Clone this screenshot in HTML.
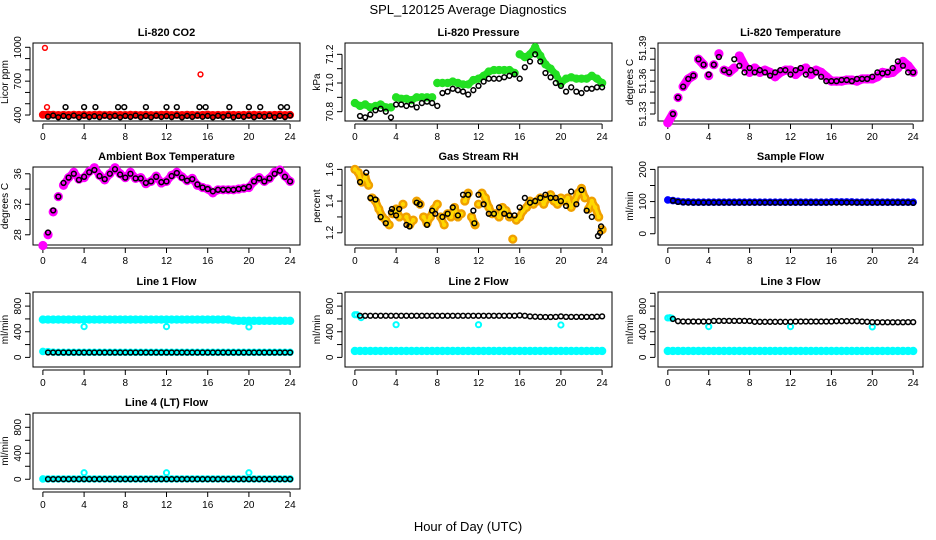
<!DOCTYPE html>
<html><head><meta charset="utf-8"><title>SPL_120125 Average Diagnostics</title>
<style>
html,body{margin:0;padding:0;background:#fff;}
svg{display:block;font-family:"Liberation Sans",Arial,sans-serif;}
</style></head>
<body>
<svg id="chart" width="936" height="540" viewBox="0 0 936 540" xmlns="http://www.w3.org/2000/svg">
<text x="468" y="14" text-anchor="middle" font-size="13">SPL_120125  Average Diagnostics</text>
<text x="468" y="531" text-anchor="middle" font-size="13">Hour of Day (UTC)</text>
</svg>
<script>
// ---- shared data ----
const T_HALF = [0,0.5,1,1.5,2,2.5,3,3.5,4,4.5,5,5.5,6,6.5,7,7.5,8,8.5,9,9.5,10,10.5,11,11.5,12,12.5,13,13.5,14,14.5,15,15.5,16,16.5,17,17.5,18,18.5,19,19.5,20,20.5,21,21.5,22,22.5,23,23.5,24];
const T_BLK = [0.5,1,1.5,2,2.5,3,3.5,4,4.5,5,5.5,6,6.5,7,7.5,8,8.5,9,9.5,10,10.5,11,11.5,12,12.5,13,13.5,14,14.5,15,15.5,16,16.5,17,17.5,18,18.5,19,19.5,20,20.5,21,21.5,22,22.5,23,23.5,24];
const X_TICKS = [0,4,8,12,16,20,24];
const OUT_T = [4,12,20];

// CO2
const co2Red = [402,405,402,400,401,400,402,401,400,400,401,402,400,401,400,401,400,402,401,400,401,400,400,402,403,400,401,400,402,401,400,401,403,400,401,400,402,401,400,401,400,402,400,401,400,401,402,400,401];
const co2RedOutT = [0.2,0.4,4,12,15.3,20];
const co2RedOutV = [995,470,410,410,760,410];
const co2Black = [385,395,380,392,383,395,380,396,382,390,381,395,384,393,380,392,383,395,381,392,380,394,383,390,382,396,380,392,383,395,384,392,380,393,382,395,380,391,383,396,381,392,384,395,380,393,382,396];
const co2HighT = [2.2,4,5.1,7.3,7.9,10,12,13,15.2,15.8,18.1,20,21.1,23.1,23.7];
const co2HighV = [470,470,470,470,470,470,470,470,470,470,470,470,470,470,470];
// Pressure
const presGreen = [70.86,70.84,70.85,70.83,70.84,70.85,70.83,70.83,70.9,70.89,70.89,70.88,70.9,70.9,70.9,70.9,71.0,71.0,71.0,71.01,71.0,70.99,70.99,71.02,71.03,71.05,71.08,71.09,71.09,71.09,71.09,71.07,71.2,71.18,71.2,71.25,71.19,71.13,71.1,71.06,71.0,71.03,71.04,71.03,71.03,71.03,71.05,71.03,71.0];
const presBlack = [70.77,70.76,70.78,70.81,70.82,70.8,70.76,70.85,70.85,70.84,70.85,70.83,70.86,70.87,70.86,70.84,70.93,70.94,70.96,70.95,70.94,70.92,70.95,70.98,71.01,71.03,71.03,71.03,71.04,71.05,71.06,71.03,71.11,71.15,71.2,71.15,71.07,71.04,71.0,70.98,70.94,70.97,70.94,70.93,70.96,70.96,70.97,70.97];
// Li-820 temperature
const ltMag = [51.322,51.33,51.345,51.355,51.362,51.365,51.38,51.375,51.365,51.375,51.385,51.37,51.368,51.372,51.383,51.374,51.368,51.372,51.368,51.37,51.368,51.364,51.368,51.37,51.37,51.366,51.37,51.372,51.366,51.37,51.368,51.364,51.36,51.36,51.36,51.361,51.361,51.36,51.362,51.362,51.362,51.364,51.368,51.367,51.368,51.372,51.378,51.374,51.368];
const ltBlack = [51.33,51.345,51.355,51.362,51.365,51.38,51.375,51.366,51.375,51.382,51.37,51.368,51.38,51.374,51.368,51.372,51.368,51.37,51.368,51.365,51.368,51.37,51.37,51.366,51.37,51.372,51.366,51.37,51.368,51.364,51.36,51.36,51.36,51.361,51.361,51.36,51.362,51.362,51.362,51.364,51.368,51.367,51.368,51.372,51.378,51.374,51.368,51.368];
// Ambient box temperature
const abMag = [26.6,28.0,31.0,33.0,34.5,35.5,36.2,35.3,35.5,36.3,36.8,35.8,35.2,36.0,36.8,36.0,35.5,36.2,35.4,35.5,34.7,35.0,35.7,34.8,35.0,35.8,36.2,35.6,35.1,35.4,34.5,34.2,34.0,33.5,33.9,33.9,33.9,33.9,34.0,34.1,34.2,35.0,35.5,35.0,35.4,36.2,36.5,35.7,35.0];
const abBlack = [28.3,31.2,33.0,34.8,35.5,36.0,35.2,35.6,36.2,36.5,35.7,35.3,36.0,36.6,35.9,35.5,36.0,35.4,35.4,34.8,35.0,35.6,34.9,35.0,35.7,36.1,35.5,35.1,35.3,34.6,34.2,34.0,33.7,33.9,33.9,33.9,33.9,34.0,34.1,34.3,35.0,35.4,35.0,35.4,36.0,36.4,35.6,35.0];
// Gas stream RH
const rhT = [0,0.33,0.67,1,1.33,1.67,2,2.33,2.67,3,3.33,3.67,4,4.33,4.67,5,5.33,5.67,6,6.33,6.67,7,7.33,7.67,8,8.33,8.67,9,9.33,9.67,10,10.33,10.67,11,11.33,11.67,12,12.33,12.67,13,13.33,13.67,14,14.33,14.67,15,15.33,15.67,16,16.33,16.67,17,17.33,17.67,18,18.33,18.67,19,19.33,19.67,20,20.33,20.67,21,21.33,21.67,22,22.33,22.67,23,23.33,23.67,24];
const rhOrange = [1.6,1.58,1.52,1.55,1.5,1.42,1.4,1.35,1.3,1.28,1.25,1.32,1.35,1.3,1.38,1.3,1.25,1.28,1.4,1.38,1.3,1.26,1.3,1.35,1.38,1.3,1.25,1.32,1.3,1.36,1.3,1.32,1.4,1.45,1.3,1.25,1.38,1.45,1.42,1.36,1.32,1.32,1.3,1.36,1.34,1.3,1.16,1.28,1.3,1.34,1.36,1.4,1.38,1.4,1.42,1.38,1.42,1.44,1.4,1.38,1.42,1.4,1.42,1.36,1.4,1.45,1.48,1.42,1.35,1.4,1.36,1.3,1.22];
const rhBlackT = [0.5,1.1,1.5,2,2.5,3,3.5,3.6,4,4.3,5,5.3,6,6.3,7,7.5,7.8,8.5,9,9.5,10,10.5,11,11.5,11.6,12,12.5,13,13.5,14,14.5,15,15.5,16,16.5,17,17.5,18,18.5,19,19.5,20,20.5,21,21.5,22,22.5,23,23.6,23.8,23.9];
const rhBlackV = [1.52,1.58,1.42,1.41,1.3,1.26,1.33,1.35,1.31,1.35,1.25,1.24,1.39,1.38,1.25,1.34,1.32,1.3,1.32,1.36,1.31,1.44,1.44,1.34,1.26,1.44,1.38,1.32,1.32,1.36,1.32,1.31,1.31,1.36,1.42,1.39,1.4,1.42,1.44,1.42,1.42,1.4,1.37,1.46,1.38,1.47,1.34,1.3,1.18,1.2,1.24];
// Sample flow
const sfBlue = [105,103,101,99,99,98,98,98,98,98,98,98,98,98,98,98,98,98,98,98,98,98,98,98,98,98,98,98,98,98,98,98,99,99,99,99,99,98,98,98,98,98,98,98,98,98,98,98,98];
const sfBlack = [103,99,98,97,97,97,97,97,97,97,97,97,97,97,97,97,97,97,97,97,97,97,97,97,97,97,97,97,97,97,97,97,97,97,97,97,97,97,97,97,97,97,97,97,97,97,97,96];
// Line 1
const l1High = [590,590,590,590,590,590,590,590,590,590,590,590,590,590,590,590,590,590,590,590,590,590,590,590,590,590,590,590,590,590,590,590,590,590,590,590,590,575,570,570,570,570,570,570,570,570,570,570,570];
const l1Low = [92,90,82,80,80,80,80,80,80,80,80,80,80,80,80,80,80,80,80,80,80,80,80,80,80,80,80,80,80,80,80,80,80,80,80,80,80,80,80,80,80,80,80,80,80,80,80,80,80];
const l1Out = [480,480,475];
const l1Black = [76,76,76,76,76,76,76,76,76,76,76,76,76,76,76,76,76,76,76,76,76,76,76,76,76,76,76,76,76,76,76,76,76,76,76,76,76,76,76,76,76,76,76,76,76,76,76,76];
// Line 2
const l2Low = [100,100,100,100,100,100,100,100,100,100,100,100,100,100,100,100,100,100,100,100,100,100,100,100,100,100,100,100,100,100,100,100,100,100,100,100,100,100,100,100,100,100,100,100,100,100,100,100,100];
const l2StartT = [0,0.2,0.6];
const l2StartV = [665,665,620];
const l2Out = [510,510,505];
const l2Black = [650,650,650,650,650,650,650,650,650,650,650,650,650,650,650,650,650,650,650,650,650,650,650,650,650,650,650,650,650,650,650,655,650,640,635,632,630,630,632,640,632,632,632,632,632,632,635,640];
// Line 3
const l3Low = [100,100,100,100,100,100,100,100,100,100,100,100,100,100,100,100,100,100,100,100,100,100,100,100,100,100,100,100,100,100,100,100,100,100,100,100,100,100,100,100,100,100,100,100,100,100,100,100,100];
const l3StartT = [0,0.2,0.4];
const l3StartV = [615,618,610];
const l3Out = [480,480,475];
const l3Black = [600,565,560,560,560,560,560,560,570,570,570,570,570,570,570,568,555,555,555,555,555,555,555,555,560,560,560,560,560,560,560,560,565,565,565,565,565,560,555,550,548,548,548,548,548,548,550,550];
// Line 4
const l4Low = [5,5,5,5,5,5,5,5,5,5,5,5,5,5,5,5,5,5,5,5,5,5,5,5,5,5,5,5,5,5,5,5,5,5,5,5,5,5,5,5,5,5,5,5,5,5,5,5,5];
const l4Out = [100,100,100];
const l4Black = [2,2,2,2,2,2,2,2,2,2,2,2,2,2,2,2,2,2,2,2,2,2,2,2,2,2,2,2,2,2,2,2,2,2,2,2,2,2,2,2,2,2,2,2,2,2,2,2];

// ---- layout ----
const NS = 'http://www.w3.org/2000/svg';
const svg = document.getElementById('chart');
const COLS = [[33,300],[345,612],[658,923]];
const ROWS = [[43,121],[167,245],[292,367],[413,489]];
const XLIM = [-0.96, 24.96];

function mk(tag, attrs, parent){
  const e = document.createElementNS(NS, tag);
  for (const k in attrs) e.setAttribute(k, attrs[k]);
  parent.appendChild(e);
  return e;
}

function makePanel(cfg){
  const [x0,x1] = COLS[cfg.col];
  const [y0,y1] = ROWS[cfg.row];
  const xs = t => x0 + (t - XLIM[0]) / (XLIM[1]-XLIM[0]) * (x1-x0);
  const ys = v => y1 - (v - cfg.ylim[0]) / (cfg.ylim[1]-cfg.ylim[0]) * (y1-y0);
  const g = mk('g', {}, svg);
  
  
  const title = mk('text', {x:(x0+x1)/2, y:y0-7, 'text-anchor':'middle', 'font-size':'11', 'font-weight':'bold'}, g);
  title.textContent = cfg.title;
  
  
  const box = mk('rect', {x:x0, y:y0, width:x1-x0, height:y1-y0, fill:'none', stroke:'#000', 'stroke-width':'1'}, g);
  
  
  const xa = mk('g', {}, g);
  
  
  mk('line', {x1:xs(X_TICKS[0]), x2:xs(X_TICKS[X_TICKS.length-1]), y1:y1+3, y2:y1+3, stroke:'#000'}, xa);
  X_TICKS.forEach(t => {
    mk('line', {x1:xs(t), x2:xs(t), y1:y1+3, y2:y1+8, stroke:'#000'}, xa);
    const lb = mk('text', {x:xs(t), y:y1+19, 'text-anchor':'middle', 'font-size':'10'}, xa);
    lb.textContent = t;
    
    
  });
  const ya = mk('g', {}, g);
  
  
  const yt = cfg.yticks;
  mk('line', {x1:x0-3, x2:x0-3, y1:ys(yt[0]), y2:ys(yt[yt.length-1]), stroke:'#000'}, ya);
  yt.forEach(v => {
    mk('line', {x1:x0-8, x2:x0-3, y1:ys(v), y2:ys(v), stroke:'#000'}, ya);
  });
  cfg.ylabels.forEach((s,i) => {
    const v = cfg.ylabelVals[i];
    const lx = x0-12, ly = ys(v);
    const lb = mk('text', {x:lx, y:ly, 'text-anchor':'middle', 'font-size':'10', transform:`rotate(-90 ${lx} ${ly})`}, ya);
    lb.textContent = s;
    
    
  });
  const yl = mk('text', {x:x0-25, y:(y0+y1)/2, 'text-anchor':'middle', 'font-size':'10', transform:`rotate(-90 ${x0-25} ${(y0+y1)/2})`}, g);
  yl.textContent = cfg.ylab;
  
  
  const pg = mk('g', {}, g);
  
  
  return {xs, ys, g: pg};
}

// dense band: thick connected segments (broken at big jumps) + points
function dense(p, times, vals, color, name, r, w){
  const n = Math.min(times.length, vals.length);
  const width = w || 7;
  for (let i=1;i<n;i++){
    const ax=p.xs(times[i-1]), ay=p.ys(vals[i-1]), bx=p.xs(times[i]), by=p.ys(vals[i]);
    if (Math.abs(by-ay) > 10) continue;
    const s = mk('line', {x1:ax, y1:ay, x2:bx, y2:by, stroke:color, 'stroke-width':width, 'stroke-linecap':'round'}, p.g);
    
    
  }
  for (let i=0;i<n;i++){
    const c = mk('circle', {cx:p.xs(times[i]), cy:p.ys(vals[i]), r:r||3.6, fill:color, stroke:color, 'stroke-width':'1.2'}, p.g);
    
    
  }
}
function rings(p, times, vals, color, name, r, sw){
  const n = Math.min(times.length, vals.length);
  for (let i=0;i<n;i++){
    const c = mk('circle', {cx:p.xs(times[i]), cy:p.ys(vals[i]), r:r||2.4, fill:'none', stroke:color, 'stroke-width':sw||1.5}, p.g);
    
    
  }
}
function steps(a,b,s){ const r=[]; for(let v=a; v<=b+1e-9; v+=s) r.push(+v.toFixed(4)); return r; }

// ---- panels ----
let p;
p = makePanel({name:'co2', title:'Li-820 CO2', col:0, row:0, ylim:[347,1038], yticks:steps(400,1000,100), ylabels:['400','700','1000'], ylabelVals:[400,700,1000], ylab:'Licor ppm'});
dense(p, T_HALF, co2Red, '#ff0000', 'co2-red-point', 3.4, 7);
rings(p, co2RedOutT, co2RedOutV, '#ff0000', 'co2-red-outlier');
rings(p, T_BLK, co2Black, '#000', 'co2-black-point');
rings(p, co2HighT, co2HighV, '#000', 'co2-black-high-point');

p = makePanel({name:'pressure', title:'Li-820 Pressure', col:1, row:0, ylim:[70.735,71.279], yticks:steps(70.8,71.2,0.1), ylabels:['70.8','71.0','71.2'], ylabelVals:[70.8,71.0,71.2], ylab:'kPa'});
dense(p, T_HALF, presGreen, '#22e022', 'pressure-green-point', 3.6, 7);
rings(p, T_BLK, presBlack, '#000', 'pressure-black-point');

p = makePanel({name:'li820-temp', title:'Li-820 Temperature', col:2, row:0, ylim:[51.3236,51.3948], yticks:steps(51.33,51.39,0.01), ylabels:['51.33','51.36','51.39'], ylabelVals:[51.33,51.36,51.39], ylab:'degrees C'});
dense(p, T_HALF, ltMag, '#ff00ff', 'li820-temp-magenta-point', 4, 9);
rings(p, T_BLK, ltBlack, '#000', 'li820-temp-black-point');

p = makePanel({name:'ambient', title:'Ambient Box Temperature', col:0, row:1, ylim:[26.66,36.89], yticks:steps(28,36,2), ylabels:['28','32','36'], ylabelVals:[28,32,36], ylab:'degrees C'});
dense(p, T_HALF, abMag, '#ff00ff', 'ambient-magenta-point', 4, 8);
rings(p, T_BLK, abBlack, '#000', 'ambient-black-point');

p = makePanel({name:'rh', title:'Gas Stream RH', col:1, row:1, ylim:[1.123,1.615], yticks:steps(1.2,1.6,0.1), ylabels:['1.2','1.4','1.6'], ylabelVals:[1.2,1.4,1.6], ylab:'percent'});
dense(p, rhT, rhOrange, '#f0a000', 'rh-orange-point', 4, 8);
dense(p, rhT, rhOrange, '#ffd800', 'rh-yellow-point', 1.6, 3);
rings(p, rhBlackT, rhBlackV, '#000', 'rh-black-point');

p = makePanel({name:'sample-flow', title:'Sample Flow', col:2, row:1, ylim:[-35,207.5], yticks:steps(0,200,50), ylabels:['0','100','200'], ylabelVals:[0,100,200], ylab:'ml/min'});
dense(p, T_HALF, sfBlue, '#0000ff', 'sample-flow-blue-point', 3.2, 6);
rings(p, T_BLK, sfBlack, '#000', 'sample-flow-black-point');

const FLOW_Y = [-150,1020];
const FT = steps(0,1000,200);
p = makePanel({name:'line1', title:'Line 1 Flow', col:0, row:2, ylim:FLOW_Y, yticks:FT, ylabels:['0','400','800'], ylabelVals:[0,400,800], ylab:'ml/min'});
dense(p, T_HALF, l1High, '#00ffff', 'line1-cyan-high-point', 3.6, 7);
dense(p, T_HALF, l1Low, '#00ffff', 'line1-cyan-low-point', 3.2, 6);
rings(p, OUT_T, l1Out, '#00ffff', 'line1-cyan-outlier', 2.6, 2);
rings(p, T_BLK, l1Black, '#000', 'line1-black-point');

p = makePanel({name:'line2', title:'Line 2 Flow', col:1, row:2, ylim:FLOW_Y, yticks:FT, ylabels:['0','400','800'], ylabelVals:[0,400,800], ylab:'ml/min'});
dense(p, T_HALF, l2Low, '#00ffff', 'line2-cyan-low-point', 3.6, 7);
rings(p, l2StartT, l2StartV, '#00ffff', 'line2-cyan-start-point', 2.6, 2);
rings(p, OUT_T, l2Out, '#00ffff', 'line2-cyan-outlier', 2.6, 2);
rings(p, T_BLK, l2Black, '#000', 'line2-black-point');

p = makePanel({name:'line3', title:'Line 3 Flow', col:2, row:2, ylim:FLOW_Y, yticks:FT, ylabels:['0','400','800'], ylabelVals:[0,400,800], ylab:'ml/min'});
dense(p, T_HALF, l3Low, '#00ffff', 'line3-cyan-low-point', 3.6, 7);
rings(p, l3StartT, l3StartV, '#00ffff', 'line3-cyan-start-point', 2.6, 2);
rings(p, OUT_T, l3Out, '#00ffff', 'line3-cyan-outlier', 2.6, 2);
rings(p, T_BLK, l3Black, '#000', 'line3-black-point');

p = makePanel({name:'line4', title:'Line 4 (LT) Flow', col:0, row:3, ylim:FLOW_Y, yticks:FT, ylabels:['0','400','800'], ylabelVals:[0,400,800], ylab:'ml/min'});
dense(p, T_HALF, l4Low, '#00ffff', 'line4-cyan-point', 3.2, 6);
rings(p, OUT_T, l4Out, '#00ffff', 'line4-cyan-outlier', 2.6, 2);
rings(p, T_BLK, l4Black, '#000', 'line4-black-point');
</script>
</body></html>
